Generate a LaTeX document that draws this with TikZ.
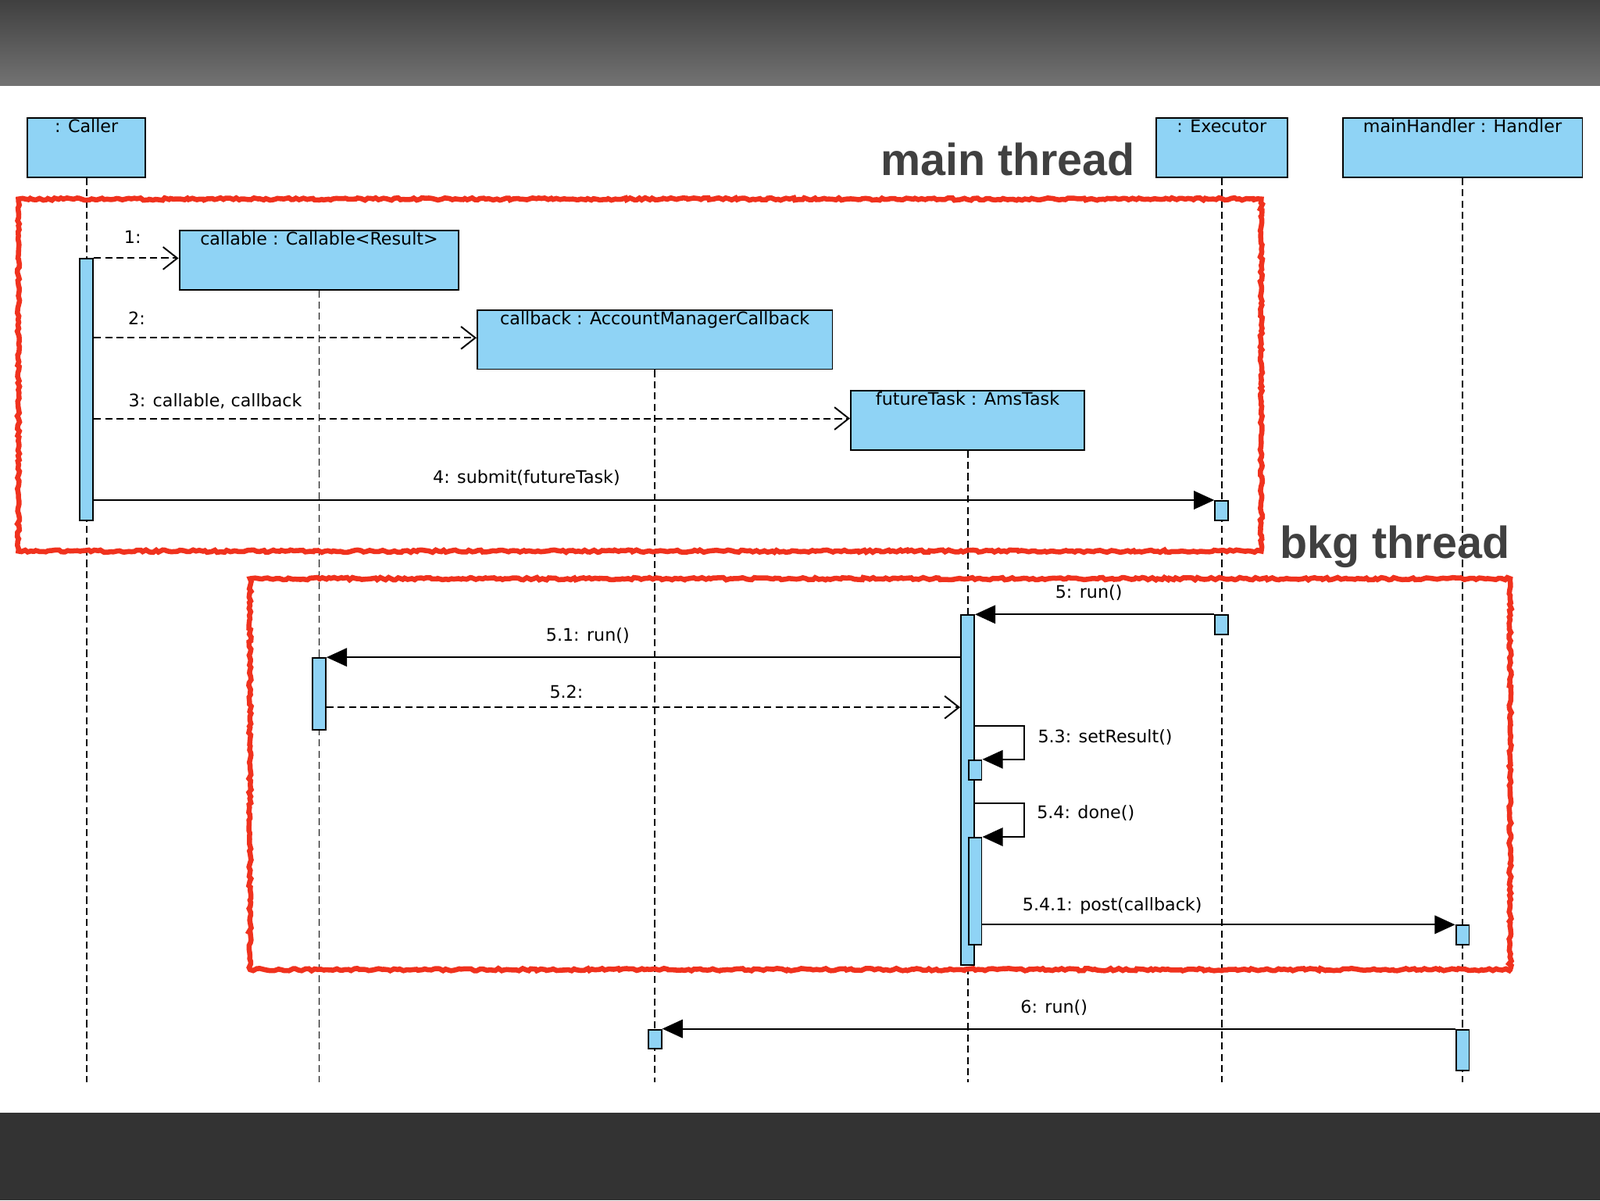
\documentclass[tikz,border=0pt]{standalone}
\usepackage{fontspec}
\setmainfont{DejaVu Sans}
\newfontfamily\bigfont{Liberation Sans}
\usetikzlibrary{positioning, arrows.meta, calc, decorations.pathmorphing}
\definecolor{lifeblue}{HTML}{8FD3F5}
\definecolor{threadred}{HTML}{F0321E}
\begin{document}
\begin{tikzpicture}[
  x=1pt, y=-1pt,
  box/.style={draw, fill=lifeblue, minimum height=58, anchor=north west,
              inner sep=0, line width=1.5pt},
  boxtext/.style={anchor=north, inner sep=2pt, font=\fontsize{17}{19}\selectfont},
  act/.style={draw, fill=lifeblue, minimum width=13, inner sep=0,
              anchor=north, line width=1.5pt},
  life/.style={dashed, line width=1.5pt, dash pattern=on 7pt off 4pt},
  msg/.style={line width=1.5pt},
  call/.style={msg, -{Triangle[length=20pt, width=18pt]}},
  ret/.style={msg, dashed, dash pattern=on 7pt off 4pt, -{Straight Barb[length=14pt, width=22pt]}},
  lbl/.style={font=\fontsize{17}{19}\selectfont, inner sep=1pt},
  thread/.style={draw=threadred, line width=5pt,
                 decorate, decoration={random steps, segment length=3pt, amplitude=1.2pt}},
  big/.style={font=\bigfont\bfseries\fontsize{44}{48}\selectfont, text=black!75}
]
\useasboundingbox (0,0) rectangle (1568,1176);
% bands
\shade[top color=black!75, bottom color=black!55] (0,0) rectangle (1568,84);
\fill[black!80] (0,1090) rectangle (1568,1176);

% objects
\node[box, minimum width=116] (caller) at (26,115) {};
\node[boxtext] at (caller.north) {: Caller};
\node[box, minimum width=129] (exec) at (1132,115) {};
\node[boxtext] at (exec.north) {: Executor};
\node[box, minimum width=235] (handler) at (1315,115) {};
\node[boxtext] at (handler.north) {mainHandler : Handler};
\node[box, minimum width=274] (callable) at (175,225) {};
\node[boxtext] at (callable.north) {callable : Callable<Result>};
\node[box, minimum width=348] (callback) at (467,303) {};
\node[boxtext] at (callback.north) {callback : AccountManagerCallback};
\node[box, minimum width=229] (future) at (833,382) {};
\node[boxtext] at (future.north) {futureTask : AmsTask};

% lifelines
\foreach \o in {caller, exec, handler, callable, callback, future}
  \draw[life] (\o.south) -- (\o.south |- 0,1060);

% thread frames
\draw[thread] (18,195) rectangle (1236,540);
\draw[thread] (245,567) rectangle (1480,950);
\node[big, anchor=base east] (mainlbl) at (1116,172) {main thread};
\node[big, anchor=base] (bkglbl) at (1367,547) {bkg thread};

% activations
\node[act, minimum height=256] (aCaller) at (caller.south |- 0,253) {};
\node[act, minimum height=19] (aExec1) at (exec.south |- 0,490) {};
\node[act, minimum height=19] (aExec2) at (exec.south |- 0,602) {};
\node[act, minimum height=343] (aFut) at (future.south |- 0,602) {};
\node[act, minimum height=70] (aCallable) at (callable.south |- 0,644) {};
\node[act, minimum height=19] (aSet) at (aFut.east |- 0,744) {};
\node[act, minimum height=105] (aDone) at (aFut.east |- 0,820) {};
\node[act, minimum height=19] (aHand1) at (handler.south |- 0,906) {};
\node[act, minimum height=40] (aHand2) at (handler.south |- 0,1008) {};
\node[act, minimum height=19] (aCb) at (callback.south |- 0,1008) {};

% messages
\draw[ret] (aCaller.east |- 0,253) -- (callable.west |- 0,253);
\node[lbl] at (130,232) {1:};
\draw[ret] (aCaller.east |- 0,331) -- (callback.west |- 0,331);
\node[lbl] at (134,312) {2:};
\draw[ret] (aCaller.east |- 0,410) -- (future.west |- 0,410);
\node[lbl] at (211,393) {3: callable, callback};
\draw[call] (aCaller.east |- aExec1.north) -- (aExec1.north west);
\node[lbl] at (516,468) {4: submit(futureTask)};

\draw[call] (aExec2.north west) -- (aFut.north east);
\node[lbl] at (1067,581) {5: run()};
\draw[call] (aFut.west |- aCallable.north) -- (aCallable.north east);
\node[lbl] at (576,623) {5.1: run()};
\draw[ret] (aCallable.east |- 0,693) -- (aFut.west |- 0,693);
\node[lbl] at (555,678) {5.2:};
\draw[call] (aFut.east |- 0,711) -- (1004,711) |- (aSet.north east);
\node[lbl] at (1083,722) {5.3: setResult()};
\draw[call] (aFut.east |- 0,787) -- (1004,787) |- (aDone.north east);
\node[lbl] at (1064,797) {5.4: done()};
\draw[call] (aDone.east |- aHand1.north) -- (aHand1.north west);
\node[lbl] at (1090,888) {5.4.1: post(callback)};
\draw[call] (aHand2.north west) -- (aCb.north east);
\node[lbl] at (1033,987) {6: run()};
\end{tikzpicture}
\end{document}
